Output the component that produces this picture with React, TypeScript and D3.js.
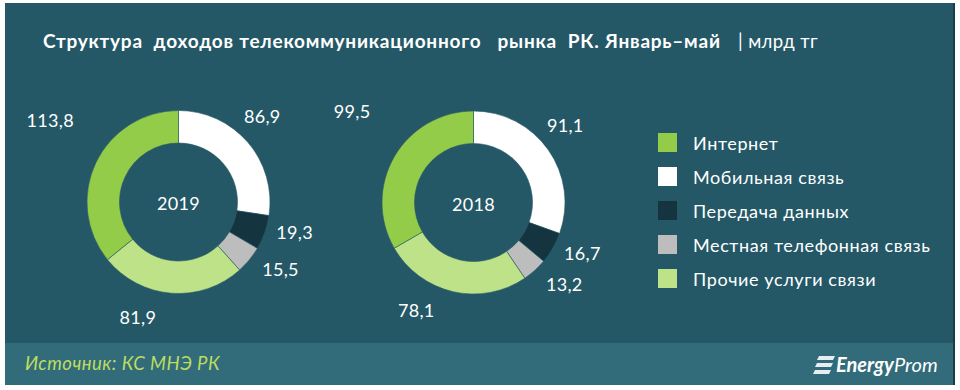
import React from "react";
import * as d3 from "d3";

const categories = ["Мобильная связь", "Передача данных", "Местная телефонная связь", "Прочие услуги связи", "Интернет"];
const legendOrder = ["Интернет", "Мобильная связь", "Передача данных", "Местная телефонная связь", "Прочие услуги связи"];
const values2019 = [86.9, 19.3, 15.5, 81.9, 113.8];
const values2018 = [91.1, 16.7, 13.2, 78.1, 99.5];
const years = ["2019", "2018"];
const colors: Record<string, string> = {
  "Интернет": "#92cc48",
  "Мобильная связь": "#ffffff",
  "Передача данных": "#14343f",
  "Местная телефонная связь": "#bdbdbd",
  "Прочие услуги связи": "#bde288",
};
// label placement tweaks (degrees, radius) per category
const labelAngleShift: Record<string, number> = {
  "Мобильная связь": -5,
  "Передача данных": -5,
  "Местная телефонная связь": -6,
  "Прочие услуги связи": 15,
  "Интернет": 7,
};
const labelRadius: Record<string, number> = {
  "Мобильная связь": 120,
  "Передача данных": 120,
  "Местная телефонная связь": 122,
  "Прочие услуги связи": 122,
  "Интернет": 152,
};

const W = 960;
const H = 390;
const FONT = "Lato, 'Open Sans', sans-serif";
const fmt = (v: number) => v.toFixed(1).replace(".", ",");

function Donut({ cx, cy, values, year }: { cx: number; cy: number; values: number[]; year: string }) {
  const pie = d3.pie<number>().sort(null).value((d) => d);
  const arcs = pie(values);
  const arc = d3.arc<d3.PieArcDatum<number>>().innerRadius(59).outerRadius(91.5);
  return (
    <g transform={`translate(${cx},${cy})`}>
      {arcs.map((a, i) => (
        <path key={i} d={arc(a) || ""} fill={colors[categories[i]]} stroke="#2a5966" strokeWidth={0.6} />
      ))}
      {arcs.map((a, i) => {
        const c = categories[i];
        const mid = (a.startAngle + a.endAngle) / 2 + (labelAngleShift[c] * Math.PI) / 180;
        const r = labelRadius[c];
        return (
          <text
            key={"l" + i}
            x={Math.sin(mid) * r}
            y={-Math.cos(mid) * r}
            textAnchor="middle"
            dominantBaseline="central"
            fill="#ffffff"
            fontSize={18}
            letterSpacing={0.3}
            fontFamily={FONT}
          >
            {fmt(values[i])}
          </text>
        );
      })}
      <text x={0} y={1} textAnchor="middle" dominantBaseline="central" fill="#ffffff" fontSize={18} letterSpacing={0.3} fontFamily={FONT}>
        {year}
      </text>
    </g>
  );
}

export default function App() {
  const legendY = d3.scalePoint<string>().domain(legendOrder).range([142, 278]);
  return (
    <svg width={W} height={H} style={{ position: "fixed", left: 0, top: 0, background: "#ffffff" }}>
      <rect x={5} y={3} width={949} height={382} fill="#245867" />
      <rect x={5} y={343} width={949} height={42} fill="#326c7a" />
      <rect x={953} y={3} width={2} height={382} fill="#163d48" />
      <text
        x={43}
        y={48}
        fill="#ffffff"
        fontSize={19}
        fontWeight="bold"
        fontFamily={FONT}
        textLength={677}
        lengthAdjust="spacing"
        style={{ whiteSpace: "pre" }}
      >
        {"Структура  доходов телекоммуникационного   рынка  РК. Январь–май"}
      </text>
      <text x={738} y={48} fill="#ffffff" fontSize={18.5} fontFamily={FONT} letterSpacing={0.4}>
        {"| млрд тг"}
      </text>
      <Donut cx={178.5} cy={202} values={values2019} year={years[0]} />
      <Donut cx={473.5} cy={202.5} values={values2018} year={years[1]} />
      {legendOrder.map((c) => (
        <g key={c} transform={`translate(658,${legendY(c)})`}>
          <rect x={0} y={-9} width={19} height={19} fill={colors[c]} />
          <text x={35} y={1} dominantBaseline="central" fill="#ffffff" fontSize={18} letterSpacing={0.6} fontFamily={FONT}>
            {c}
          </text>
        </g>
      ))}
      <text x={25} y={370} fill="#bddc62" fontSize={18.5} letterSpacing={0.5} fontStyle="italic" fontFamily={FONT}>
        Источник: КС МНЭ РК
      </text>
      <g transform="translate(815,356)" fill="#e8eef0">
        <path d="M4,0 L20,0 L18,4 L2,4 Z" />
        <path d="M2,7 L18,7 L16,11 L0,11 Z" />
        <path d="M0,14 L16,14 L14,18 L-2,18 Z" />
      </g>
      <text x={836} y={372} fill="#ffffff" fontSize={20} fontStyle="italic" fontFamily={FONT}>
        <tspan fontWeight="bold">Energy</tspan>
        <tspan>Prom</tspan>
      </text>
    </svg>
  );
}
